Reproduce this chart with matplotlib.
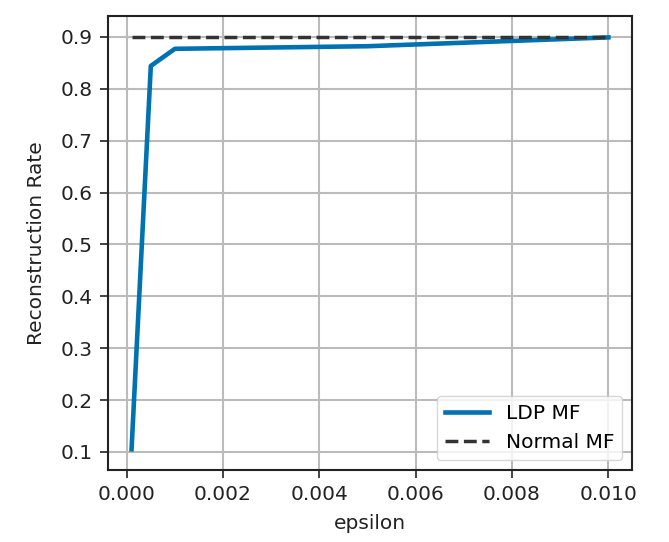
import matplotlib
matplotlib.use("Agg")
import matplotlib.pyplot as plt

# epsilon values and reconstruction rates
epsilon = [0.0001, 0.0005, 0.001, 0.005, 0.01]
ldp_rate = [0.105, 0.844, 0.877, 0.882, 0.899]
normal_rate = [0.9, 0.9, 0.9, 0.9, 0.9]

plt.rcParams['font.family'] = 'DejaVu Sans'
fig = plt.figure(figsize=(6.69, 5.42), dpi=100)
ax = fig.add_axes([0.161, 0.133, 0.784, 0.837])

ax.plot(epsilon, ldp_rate, color='#0072B2', linewidth=3.3, label='LDP MF')
ax.plot(epsilon, normal_rate, color='#333333', linewidth=2.5, linestyle='--', label='Normal MF')

ax.set_xticks([0.0, 0.002, 0.004, 0.006, 0.008, 0.010])
ax.set_xticklabels(['0.000', '0.002', '0.004', '0.006', '0.008', '0.010'])
ax.set_yticks([0.1, 0.2, 0.3, 0.4, 0.5, 0.6, 0.7, 0.8, 0.9])

ax.grid(True, color='#bbbbbb', linewidth=1.5)
ax.set_axisbelow(True)
for s in ax.spines.values():
    s.set_color('#222222')
    s.set_linewidth(1.5)
ax.tick_params(labelsize=14.5, colors='#222222', length=6, width=1.2, pad=5)

ax.set_xlabel('epsilon', fontsize=14.5, color='#222222', labelpad=7)
ax.set_ylabel('Reconstruction Rate', fontsize=14.5, color='#222222', labelpad=10)

ax.legend(loc='lower right', fontsize=14.5, handlelength=2.2, framealpha=0.8)

fig.savefig('out.png', dpi=100)
